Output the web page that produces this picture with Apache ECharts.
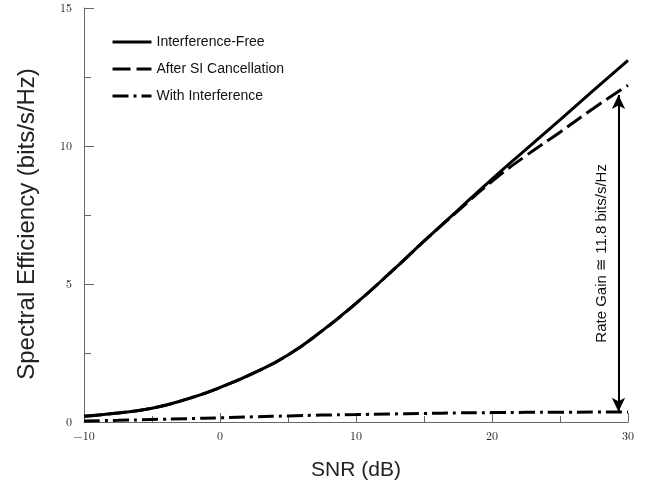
<!DOCTYPE html>
<html><head><meta charset="utf-8">
<script src="https://cdn.jsdelivr.net/npm/echarts@6/dist/echarts.min.js"></script>
<style>html,body{margin:0;padding:0;background:#fff}#c{width:650px;height:493px}</style>
</head><body><div id="c"></div>
<script>
const snr = [-10,-7.5,-5,-2.5,0,2.5,5,7.5,10,12.5,15,17.5,20,22.5,25,27.5,30];
const interferenceFree = [0.21,0.33,0.5,0.82,1.25,1.78,2.43,3.3,4.3,5.4,6.55,7.68,8.8,9.88,10.95,12.03,13.1];
const afterSI = [0.21,0.33,0.5,0.82,1.25,1.78,2.43,3.3,4.3,5.4,6.55,7.65,8.72,9.65,10.5,11.38,12.2];
const withInterference = [0.04,0.06,0.09,0.12,0.15,0.19,0.22,0.25,0.27,0.29,0.31,0.33,0.34,0.35,0.355,0.36,0.365];
const xTicks = [-10,0,10,20,30];
const yTicks = [0,5,10,15];
const gainArrow = {x: 29.3, from: 0.37, to: 11.85, text: 'Rate Gain ≅ 11.8 bits/s/Hz'};

const pair = (ys) => snr.map((x,i)=>[x, ys[i]]);
const sans = 'Liberation Sans, Arial, Helvetica, sans-serif';
const serif = 'Latin Modern Roman, DejaVu Serif, Liberation Serif, serif';
const axisCol = '#666';
const dashSI = [18, 6];
const dashInt = [16, 5, 3, 5];
const hidden = {opacity: 0, borderWidth: 0};

const chart = echarts.init(document.getElementById('c'));
chart.setOption({
  animation: false,
  backgroundColor: '#fff',
  grid: {left: 84, right: 22, top: 8, bottom: 71},
  legend: {
    orient: 'vertical', left: 106, top: 30, itemWidth: 39, itemHeight: 14, itemGap: 13,
    itemStyle: hidden,
    textStyle: {fontFamily: sans, fontSize: 14, color: '#111'},
    data: [
      {name: 'Interference-Free', itemStyle: hidden, lineStyle: {type: 'solid', width: 3, color: '#000'}},
      {name: 'After SI Cancellation', itemStyle: hidden, lineStyle: {type: dashSI, width: 3, color: '#000'}},
      {name: 'With Interference', itemStyle: hidden, lineStyle: {type: dashInt, width: 3, color: '#000'}}
    ]
  },
  xAxis: {
    type: 'value', min: -10, max: 30, interval: 10,
    name: 'SNR (dB)', nameLocation: 'middle', nameGap: 38,
    nameTextStyle: {fontFamily: sans, fontSize: 21, color: '#222'},
    axisLine: {show: true, onZero: false, lineStyle: {color: axisCol, width: 1}},
    axisTick: {show: true, inside: true, length: 9, lineStyle: {color: axisCol}},
    minorTick: {show: true, splitNumber: 2, length: 6, lineStyle: {color: axisCol}},
    splitLine: {show: false},
    axisLabel: {fontFamily: serif, fontSize: 12, color: '#222', margin: 8,
      formatter: v => (xTicks.includes(v) ? (v < 0 ? '\u2212' + Math.abs(v) : String(v)) : '')}
  },
  yAxis: {
    type: 'value', min: 0, max: 15, interval: 5,
    name: 'Spectral Efficiency (bits/s/Hz)', nameLocation: 'middle', nameGap: 45,
    nameTextStyle: {fontFamily: sans, fontSize: 24, color: '#222', padding: [0, 18, 0, 0]},
    axisLine: {show: true, onZero: false, lineStyle: {color: axisCol, width: 1}},
    axisTick: {show: true, inside: true, length: 10, lineStyle: {color: axisCol}},
    minorTick: {show: true, splitNumber: 2, length: 7, lineStyle: {color: axisCol}},
    splitLine: {show: false},
    axisLabel: {fontFamily: serif, fontSize: 12, color: '#222', margin: 12,
      formatter: v => (yTicks.includes(v) ? String(v) : '')}
  },
  series: [
    {name: 'Interference-Free', type: 'line', data: pair(interferenceFree), smooth: true,
     symbol: 'none', lineStyle: {color: '#000', width: 3, type: 'solid'}, itemStyle: {color: '#000'}},
    {name: 'After SI Cancellation', type: 'line', data: pair(afterSI), smooth: true,
     symbol: 'none', lineStyle: {color: '#000', width: 3, type: dashSI}, itemStyle: {color: '#000'}},
    {name: 'With Interference', type: 'line', data: pair(withInterference), smooth: true,
     symbol: 'none', lineStyle: {color: '#000', width: 3, type: dashInt}, itemStyle: {color: '#000'},
     markLine: {
       silent: true, symbol: ['arrow','arrow'], symbolSize: [10, 14],
       lineStyle: {color: '#000', width: 2, type: 'solid'},
       label: {show: true, position: 'insideMiddleTop', distance: 9, formatter: gainArrow.text,
         fontFamily: sans, fontSize: 15, color: '#111'},
       data: [[{coord: [gainArrow.x, gainArrow.from]}, {coord: [gainArrow.x, gainArrow.to]}]]
     }}
  ]
});
</script></body></html>
